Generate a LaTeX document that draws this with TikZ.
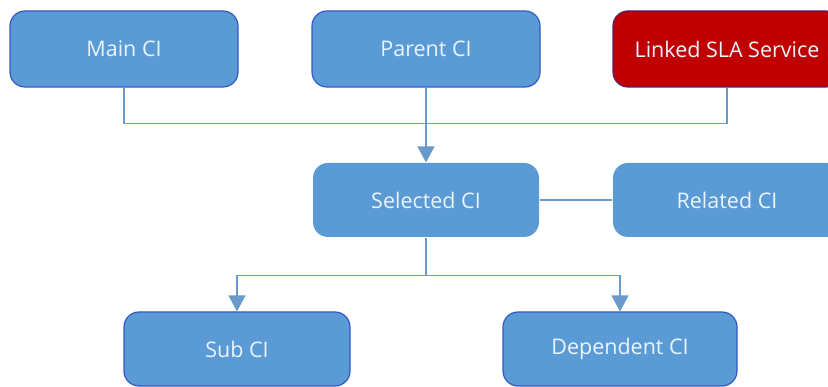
\documentclass[tikz,border=0pt]{standalone}
\usepackage{fontspec}
\setmainfont{Open Sans}
\usetikzlibrary{arrows.meta}
\definecolor{ciblue}{HTML}{5B9BD5}
\definecolor{ciedge}{HTML}{3458C4}
\definecolor{slared}{HTML}{C00000}
\definecolor{slaedge}{HTML}{52206E}
\definecolor{linkcol}{HTML}{6A9ACB}
\definecolor{txtcol}{HTML}{EAF4FF}
\tikzset{
    cibox/.style={rectangle, rounded corners=15pt, fill=ciblue, draw=ciedge, line width=1.2pt,
        minimum width=228pt, minimum height=76pt, text=txtcol, font=\fontsize{21.5}{24}\selectfont},
    ciplain/.style={cibox, draw=none},
    slabox/.style={cibox, fill=slared, draw=slaedge},
    link/.style={draw=linkcol, line width=1.3pt},
    linkarrow/.style={link, -{Triangle[width=17pt,length=16pt]}}
}
\begin{document}
\begin{tikzpicture}[x=1pt, y=-1pt]
    \clip (0, 0) rectangle (828, 387);
    \fill[white] (0, 0) rectangle (828, 387);
    % Top row
    \node[cibox] (main) at (124, 49) {Main CI};
    \node[cibox] (parent) at (426, 49) {Parent CI};
    \node[slabox] (linked) at (727, 49) {Linked SLA Service};
    % Middle row
    \node[ciplain, minimum width=226pt, minimum height=74pt] (selected) at (426, 200) {Selected CI};
    \node[ciplain, minimum height=74pt] (related) at (727, 200) {Related CI};
    % Bottom row
    \node[cibox, minimum width=226pt, minimum height=74pt] (sub) at (237, 349) {Sub CI};
    \node[cibox, minimum width=234pt, minimum height=74pt] (dependent) at (620, 349) {Dependent CI};
    % Connectors
    \draw[link] (main.south) -- ++(0, 36) -| (linked.south);
    \draw[linkarrow] (parent.south) -- (selected.north);
    \draw[link] (selected.east) -- (related.west);
    \draw[link] (selected.south) -- ++(0, 38) coordinate (split);
    \draw[linkarrow] (split) -| (sub.north);
    \draw[linkarrow] (split) -| (dependent.north);
\end{tikzpicture}
\end{document}
